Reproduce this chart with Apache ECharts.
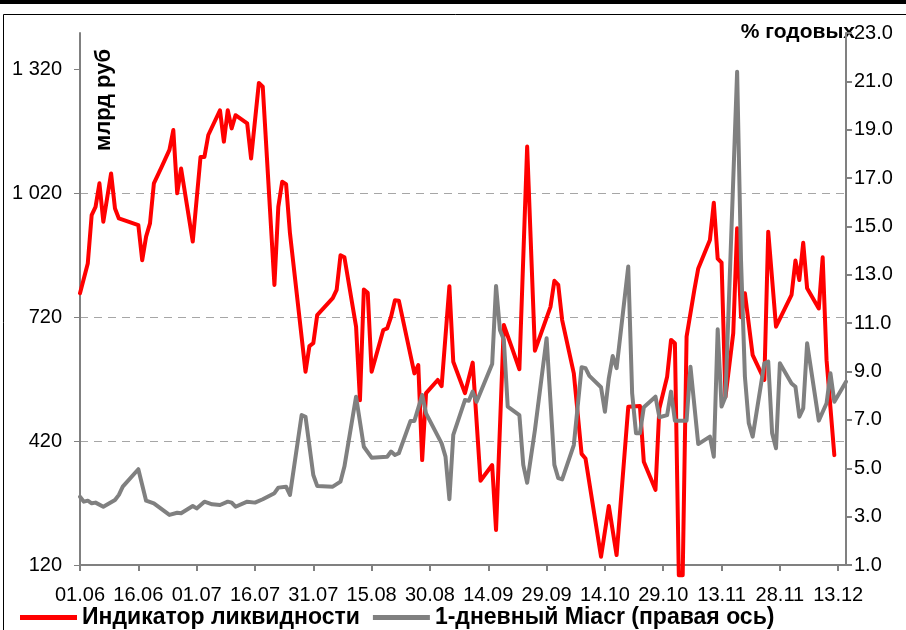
<!DOCTYPE html>
<html>
<head>
<meta charset="utf-8">
<script src="https://cdn.jsdelivr.net/npm/echarts@6/dist/echarts.min.js"></script>
<style>
  html, body { margin: 0; padding: 0; background: #fff; }
  #main { width: 906px; height: 630px; }
</style>
</head>
<body>
<div id="main"></div>
<script>
// x values are days counted from 01.06
var tickDays = [0, 15, 30, 45, 60, 75, 90, 105, 120, 135, 150, 165, 180, 195];
var tickLabels = ['01.06', '16.06', '01.07', '16.07', '31.07', '15.08', '30.08', '14.09', '29.09', '14.10', '29.10', '13.11', '28.11', '13.12'];

var liquidityDays = [0, 2, 3, 4, 5, 6, 8, 9, 10, 15, 16, 17, 18, 19, 21, 23, 24, 25, 26, 29,
    31, 32, 33, 36, 37, 38, 39, 40, 43, 44, 46, 47, 50, 51, 52, 53, 54, 58, 59, 60,
    61, 65, 66, 67, 68, 71, 72, 73, 74, 75, 78, 79, 80, 81, 82, 86, 87, 88, 89, 92,
    93, 95, 96, 99, 101, 103, 106, 107, 109, 111, 113, 115, 117, 121, 122, 123, 124, 127, 129, 130,
    134, 136, 138, 141, 144, 145, 148, 149, 151, 152, 153, 154, 155, 156, 158, 159, 162, 163, 164, 165,
    166, 168, 169, 170, 171, 173, 176, 177, 179, 183, 184, 185, 186, 187, 190, 191, 192, 194];
var liquidityValues = [778, 850, 967, 987, 1044, 951, 1068, 983, 959, 943, 858, 915, 947, 1044, 1084, 1125, 1173, 1020, 1080, 903,
    1108, 1108, 1161, 1221, 1145, 1221, 1177, 1209, 1189, 1104, 1287, 1278, 798, 987, 1048, 1042, 923, 588, 650, 657,
    725, 766, 786, 870, 865, 697, 519, 787, 779, 588, 689, 693, 721, 761, 760, 584, 604, 374, 536, 568,
    553, 795, 612, 536, 610, 324, 362, 205, 701, 648, 594, 1133, 639, 745, 808, 798, 713, 584, 389, 378,
    140, 263, 144, 503, 505, 370, 302, 499, 576, 665, 657, 95, 95, 673, 786, 838, 907, 997, 862, 852,
    527, 681, 935, 720, 778, 628, 568, 927, 697, 774, 857, 810, 900, 790, 741, 865, 616, 386];

var miacrDays = [0, 1, 2, 3, 4, 6, 9, 10, 11, 15, 17, 19, 23, 25, 26, 29, 30, 32, 34, 36,
    38, 39, 40, 43, 45, 47, 50, 51, 53, 54, 57, 58, 60, 61, 65, 67, 68, 71, 73, 75,
    79, 80, 81, 82, 85, 86, 88, 89, 93, 94, 95, 96, 99, 100, 101, 102, 106, 107, 108, 109,
    110, 113, 114, 115, 117, 120, 122, 123, 124, 127, 129, 130, 131, 134, 135, 136, 137, 138, 141, 142,
    143, 144, 145, 148, 149, 151, 152, 153, 156, 157, 159, 162, 163, 164, 165, 166, 169, 170, 171, 172,
    173, 176, 177, 178, 179, 180, 183, 184, 185, 186, 187, 190, 192, 193, 194, 197];
var miacrValues = [3.82, 3.62, 3.66, 3.55, 3.58, 3.41, 3.69, 3.9, 4.24, 4.96, 3.66, 3.55, 3.07, 3.16, 3.14, 3.44, 3.34, 3.62, 3.51, 3.48,
    3.62, 3.58, 3.41, 3.62, 3.58, 3.72, 3.97, 4.2, 4.24, 3.9, 7.2, 7.13, 4.72, 4.27, 4.24, 4.45, 5.07, 7.96, 5.89, 5.44,
    5.48, 5.69, 5.55, 5.62, 6.96, 6.96, 8.03, 7.27, 6.03, 5.48, 3.72, 6.38, 7.82, 7.79, 8.17, 7.75, 9.31, 12.54, 10.72, 10.31,
    7.55, 7.2, 5.14, 4.4, 6.58, 10.38, 5.14, 4.59, 4.54, 5.96, 9.18, 9.14, 8.82, 8.35, 7.34, 8.72, 9.64, 9.14, 13.34, 8.1,
    6.45, 6.45, 7.52, 7.96, 7.11, 7.2, 8.17, 6.97, 6.97, 9.2, 6.0, 6.31, 5.48, 10.75, 7.55, 7.96, 21.4, 13.6, 8.79, 6.86,
    6.31, 9.34, 9.41, 6.45, 5.83, 9.34, 8.51, 8.37, 7.13, 7.48, 10.17, 6.97, 7.69, 8.93, 7.75, 8.58];

var leftTicks = [120, 420, 720, 1020, 1320];

function pairs(xs, ys) {
    return xs.map(function (x, i) { return [x, ys[i]]; });
}

var FONT = "'Liberation Sans', Arial, sans-serif";
var axisGray = '#808080';

var myChart = echarts.init(document.getElementById('main'));

var option = {
    animation: false,
    backgroundColor: '#fff',
    grid: { left: 80, right: 60, top: 33, bottom: 65 },
    legend: {
        left: 15,
        top: 601,
        icon: 'rect',
        itemWidth: 57,
        itemHeight: 5,
        itemGap: 13,
        textStyle: { fontFamily: FONT, fontSize: 23, fontWeight: 'bold', color: '#000' },
        data: ['Индикатор ликвидности', '1-дневный Miacr (правая ось)']
    },
    xAxis: {
        type: 'value',
        min: 0,
        max: 197,
        interval: 15,
        axisLine: { lineStyle: { color: axisGray, width: 2 } },
        axisTick: { show: true, length: 6, customValues: tickDays, lineStyle: { color: axisGray, width: 2 } },
        axisLabel: {
            customValues: tickDays,
            margin: 20,
            fontFamily: FONT,
            fontSize: 20,
            color: '#000',
            formatter: function (v) { return tickLabels[tickDays.indexOf(v)] || ''; }
        },
        splitLine: { show: false }
    },
    yAxis: [{
        type: 'value',
        min: 120,
        max: 1408,
        interval: 300,
        axisLine: { show: true, lineStyle: { color: axisGray, width: 2 } },
        axisTick: { show: true, length: 6, customValues: leftTicks, lineStyle: { color: axisGray, width: 1 } },
        axisLabel: {
            customValues: leftTicks,
            margin: 18,
            fontFamily: FONT,
            fontSize: 20,
            color: '#000',
            formatter: function (v) { return String(v).replace(/\B(?=(\d{3})+(?!\d))/g, ' '); }
        },
        splitLine: {
            show: true,
            showMinLine: false,
            showMaxLine: false,
            lineStyle: { color: '#a6a6a6', type: [8, 6], width: 1 }
        }
    }, {
        type: 'value',
        position: 'right',
        min: 1,
        max: 23,
        interval: 2,
        axisLine: { show: true, lineStyle: { color: axisGray, width: 2 } },
        axisTick: { show: true, length: 6, lineStyle: { color: axisGray, width: 2 } },
        axisLabel: {
            margin: 8,
            fontFamily: FONT,
            fontSize: 20,
            color: '#000',
            formatter: function (v) { return v.toFixed(1); }
        },
        splitLine: { show: false }
    }],
    series: [{
        name: 'Индикатор ликвидности',
        type: 'line',
        yAxisIndex: 0,
        data: pairs(liquidityDays, liquidityValues),
        showSymbol: false,
        clip: false,
        color: '#ff0000',
        lineStyle: { color: '#ff0000', width: 4, join: 'round', cap: 'round' }
    }, {
        name: '1-дневный Miacr (правая ось)',
        type: 'line',
        yAxisIndex: 1,
        data: pairs(miacrDays, miacrValues),
        showSymbol: false,
        color: '#808080',
        lineStyle: { color: '#808080', width: 4, join: 'round', cap: 'round' }
    }],
    graphic: [
        { type: 'line', shape: { x1: 0, y1: 2, x2: 906, y2: 2 }, style: { stroke: '#000', lineWidth: 4 } },
        { type: 'rect', shape: { x: 3.5, y: 14.5, width: 920, height: 640 }, style: { fill: null, stroke: '#000', lineWidth: 1 } },
        {
            type: 'text', x: 104, y: 100, rotation: Math.PI / 2,
            style: { text: 'млрд руб', font: "bold 22px 'Liberation Sans', Arial", fill: '#000', align: 'center', verticalAlign: 'middle' }
        },
        {
            type: 'text', x: 855, y: 32,
            style: { text: '% годовых', font: "bold 21px 'Liberation Sans', Arial", fill: '#000', align: 'right', verticalAlign: 'middle' }
        }
    ]
};

myChart.setOption(option);
</script>
</body>
</html>
